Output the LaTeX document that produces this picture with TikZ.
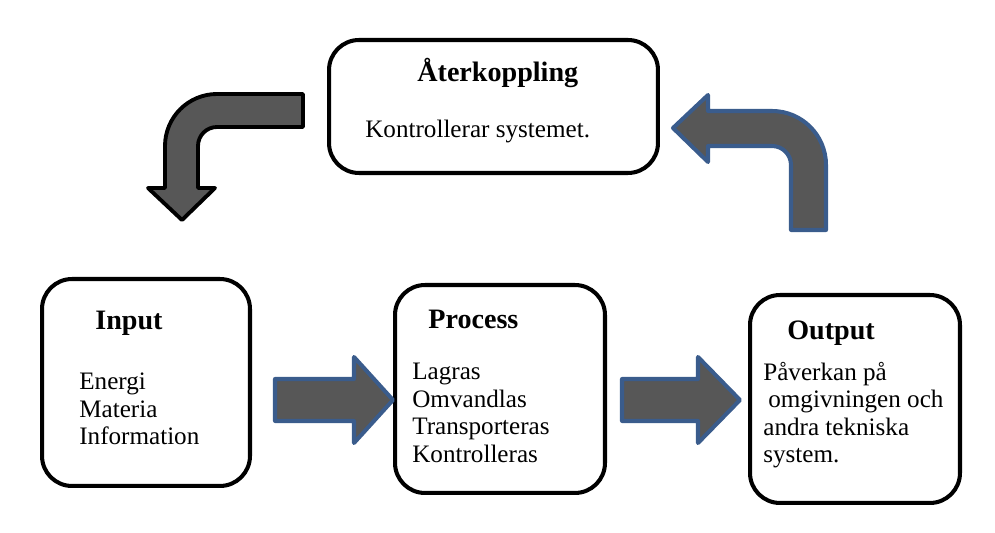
\documentclass[tikz,border=0pt]{standalone}
\usepackage{fontspec}
\setmainfont{Liberation Serif}
\usepackage{xcolor}
\usetikzlibrary{positioning}

\definecolor{arrowblue}{HTML}{3A5C8C}
\definecolor{arrowgray}{HTML}{575757}

\tikzset{
    block/.style={draw, line width=2.3pt, rounded corners=0.6cm, fill=white},
    head/.style={anchor=base west, inner sep=0pt, font=\fontsize{16}{18}\selectfont\bfseries},
    txt/.style={anchor=base west, inner sep=0pt, font=\fontsize{14.3}{16}\selectfont},
    bluearrow/.style={draw=arrowblue, fill=arrowgray, line width=2.3pt, line join=round},
    blackarrow/.style={draw=black, fill=arrowgray, line width=2.2pt, line join=round}
}

\begin{document}
\begin{tikzpicture}[x=0.02cm, y=-0.02cm]
            \useasboundingbox (0,0) rectangle (995,533);

            % boxes
            \node[block, minimum width=6.58cm, minimum height=2.66cm] (feedback) at (493.5,106.5) {};
            \node[block, minimum width=4.16cm, minimum height=4.14cm] (input)    at (146,382.5) {};
            \node[block, minimum width=4.2cm,  minimum height=4.16cm] (process)  at (500,389) {};
            \node[block, minimum width=4.2cm,  minimum height=4.16cm] (output)   at (855,399) {};

            % texts
            \node[head] (feedbackhead) at (417,82) {Återkoppling};
            \node[txt]  (feedbacktxt)  at (365,138) {Kontrollerar systemet.};

            \node[head] (inputhead) at (95,330) {Input};
            \foreach \t [count=\i from 0] in {Energi,Materia,Information}
                \node[txt] (input\i) at (79,390+27.5*\i) {\t};

            \node[head] (processhead) at (428,329) {Process};
            \foreach \t [count=\i from 0] in {Lagras,Omvandlas,Transporteras,Kontrolleras}
                \node[txt] (process\i) at (412,380+27.4*\i) {\t};

            \node[head] (outputhead) at (787,340) {Output};
            \node[txt] (output0) at (763,381) {Påverkan på};
            \node[txt] (output1) at (768,408) {omgivningen och};
            \node[txt] (output2) at (763,436) {andra tekniska};
            \node[txt] (output3) at (763,463) {system.};

            % straight arrows
            \draw[bluearrow] (275,379) -- (354,379) -- (354,357) -- (393,400)
                -- (354,443) -- (354,421) -- (275,421) -- cycle;
            \draw[bluearrow] (622,379) -- (698,379) -- (698,357) -- (740,400)
                -- (698,443) -- (698,421) -- (622,421) -- cycle;

            % feedback arrows
            \draw[bluearrow] (673,128) -- (708,95) -- (708,111) -- (772,111)
                .. controls (801.8,111) and (826,135.2) .. (826,165)
                -- (826,230) -- (791,230) -- (791,165)
                .. controls (791,154.5) and (782.5,146) .. (772,146)
                -- (708,146) -- (708,162) -- cycle;
            \draw[blackarrow] (303,94) -- (217,94)
                .. controls (188.3,94) and (165,117.3) .. (165,146)
                -- (165,188) -- (148,188) -- (182,220) -- (215,188) -- (198,188)
                -- (198,146) .. controls (198,135.5) and (206.5,127) .. (217,127)
                -- (303,127) -- cycle;
        \end{tikzpicture}
\end{document}
